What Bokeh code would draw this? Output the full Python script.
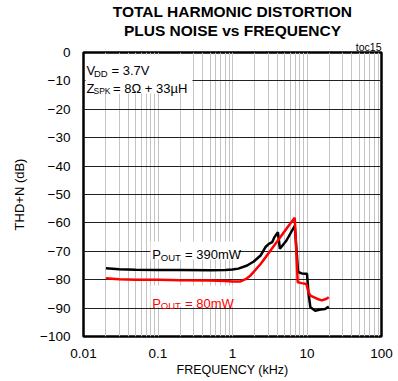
from bokeh.plotting import figure
from bokeh.models import Range1d, FixedTicker, Label, BoxAnnotation, Title
from bokeh.embed import file_html
from bokeh.resources import INLINE

# ---- data ----
freq_390 = [0.02, 0.03, 0.05, 0.1, 0.2, 0.5, 0.8, 1.0, 1.2, 1.57, 1.93, 2.38, 2.77, 3.08,
            3.41, 3.66, 4.07, 4.33, 5.3, 6.85, 7.6, 8.5, 10.0, 10.5, 11.1, 12.9, 15.2, 17.5, 19.6]
thd_390 = [-76.0, -76.3, -76.5, -76.6, -76.6, -76.7, -76.6, -76.4, -76.1, -75.0, -73.6, -71.5, -68.5, -67.4,
           -66.8, -65.0, -63.3, -69.1, -66.2, -61.0, -77.3, -77.8, -77.9, -85.0, -89.7, -90.9, -90.5, -90.3, -89.5]

freq_80 = [0.02, 0.03, 0.05, 0.1, 0.2, 0.5, 0.8, 1.0, 1.28, 1.5, 1.75, 2.4, 3.24, 4.4, 5.7, 6.85,
           7.5, 8.5, 9.8, 10.5, 11.1, 13.6, 15.8, 18.0, 19.6]
thd_80 = [-79.5, -79.8, -80.0, -80.0, -80.2, -80.3, -80.5, -80.6, -80.6, -79.8, -78.5, -74.4, -69.7, -65.0, -60.9, -58.2,
          -80.9, -81.2, -81.5, -84.5, -85.6, -86.7, -87.3, -86.8, -86.2]

x_ticks = [0.01, 0.1, 1.0, 10.0, 100.0]
x_tick_labels = ["0.01", "0.1", "1", "10", "100"]
x_minor = [m * 10.0 ** e for e in range(-2, 2) for m in range(2, 10)]
y_ticks = list(range(-100, 1, 10))

FONT = "Liberation Sans"

W, H = 398, 381
FL, FT = 83, 52  # frame left / top in page pixels
p = figure(width=W, height=H, x_axis_type="log",
           x_range=Range1d(0.01, 100), y_range=Range1d(-100, 0),
           output_backend="svg", toolbar_location=None,
           min_border_left=83, min_border_right=17, min_border_top=52, min_border_bottom=45)
p.background_fill_color = "white"
p.border_fill_color = "white"
p.outline_line_color = "black"
p.outline_line_width = 2.5

# titles (first added = closest to the frame)
p.add_layout(Title(text="toc15", align="right", text_font=FONT, text_font_size="10.5px",
                   text_font_style="normal", text_color="black", standoff=0, offset=0), "above")
p.add_layout(Title(text="PLUS NOISE vs FREQUENCY", align="center", text_font=FONT,
                   text_font_size="15.5px", text_font_style="bold", text_color="black",
                   standoff=0, offset=0), "above")
p.add_layout(Title(text="TOTAL HARMONIC DISTORTION", align="center", text_font=FONT,
                   text_font_size="15.5px", text_font_style="bold", text_color="black",
                   standoff=0, offset=0), "above")

# axes
p.xaxis.ticker = FixedTicker(ticks=x_ticks, minor_ticks=x_minor)
p.xaxis.major_label_overrides = {t: l for t, l in zip(x_ticks, x_tick_labels)}
p.yaxis.ticker = FixedTicker(ticks=y_ticks)
for ax in (p.xaxis[0], p.yaxis[0]):
    ax.axis_line_color = None
    ax.major_tick_line_color = None
    ax.minor_tick_line_color = None
    ax.major_tick_out = 0
    ax.major_tick_in = 0
    ax.minor_tick_out = 0
    ax.minor_tick_in = 0
    ax.major_label_text_font = FONT
    ax.major_label_text_font_size = "13.5px"
    ax.major_label_text_color = "black"
    ax.axis_label_text_font = FONT
    ax.axis_label_text_font_size = "13px"
    ax.axis_label_text_font_style = "normal"
    ax.axis_label_text_color = "black"
p.xaxis.major_label_standoff = 12
p.xaxis.axis_label = "FREQUENCY (kHz)"
p.xaxis.axis_label_standoff = 2
p.xaxis.axis_label_text_font_size = "12.5px"
p.yaxis.major_label_standoff = 13
p.yaxis.axis_label = "THD+N (dB)"
p.yaxis.axis_label_standoff = 10

# grids
p.xgrid.grid_line_color = "#c4c4c4"
p.xgrid.minor_grid_line_color = "#c4c4c4"
p.xgrid.grid_line_width = 1
p.ygrid.grid_line_color = "#222222"
p.ygrid.grid_line_width = 1

# curves
p.line(freq_390, thd_390, line_color="black", line_width=2.5)
p.line(freq_80, thd_80, line_color="#ff0000", line_width=2.5)


# helpers: page pixel in the reference -> data (only for annotation placement)
def px_x(px):
    return 10 ** (-2 + (px - 83) / 74.5)


def px_y(py):
    return -(py - 52) / 2.84


# white boxes behind annotation text
for l, r, t, b in [(85, 192, 54, 93), (150, 238, 241, 259), (150, 232, 285, 306)]:
    p.add_layout(BoxAnnotation(left=px_x(l), right=px_x(r), top=px_y(t), bottom=px_y(b),
                               fill_color="white", fill_alpha=1.0, line_color=None))


def txt(text, px, py, size, color="black", style="normal", align="left",
        baseline="alphabetic", font=FONT, x=0.01, y=0):
    p.add_layout(Label(x=x, y=y, x_offset=px, y_offset=py, text=text, text_font=font,
                       text_font_size=size, text_color=color, text_font_style=style,
                       text_align=align, text_baseline=baseline))


# conditions
txt("V", 86 - FL, -(70 - FT), "13px")
txt("DD", 93.5 - FL, -(73 - FT), "9.5px")
txt("= 3.7V", 111 - FL, -(70 - FT), "13px")
txt("Z", 86 - FL, -(87.7 - FT), "13px")
txt("SPK", 93 - FL, -(90.7 - FT), "8.5px")
txt("= 8\u03a9 + 33\u00b5H", 112.5 - FL, -(87.7 - FT), "13px")

# series labels
txt("P", 151.7 - FL, -(254 - FT), "13px")
txt("OUT", 160.3 - FL, -(256.5 - FT), "9.5px")
txt("= 390mW", 184.5 - FL, -(254 - FT), "13px")
txt("P", 151.7 - FL, -(302.7 - FT), "13px", color="#ff0000")
txt("OUT", 160.3 - FL, -(305.2 - FT), "9.5px", color="#ff0000")
txt("= 80mW", 184.5 - FL, -(302.7 - FT), "13px", color="#ff0000")

open("out.html", "w").write(file_html(p, INLINE))
